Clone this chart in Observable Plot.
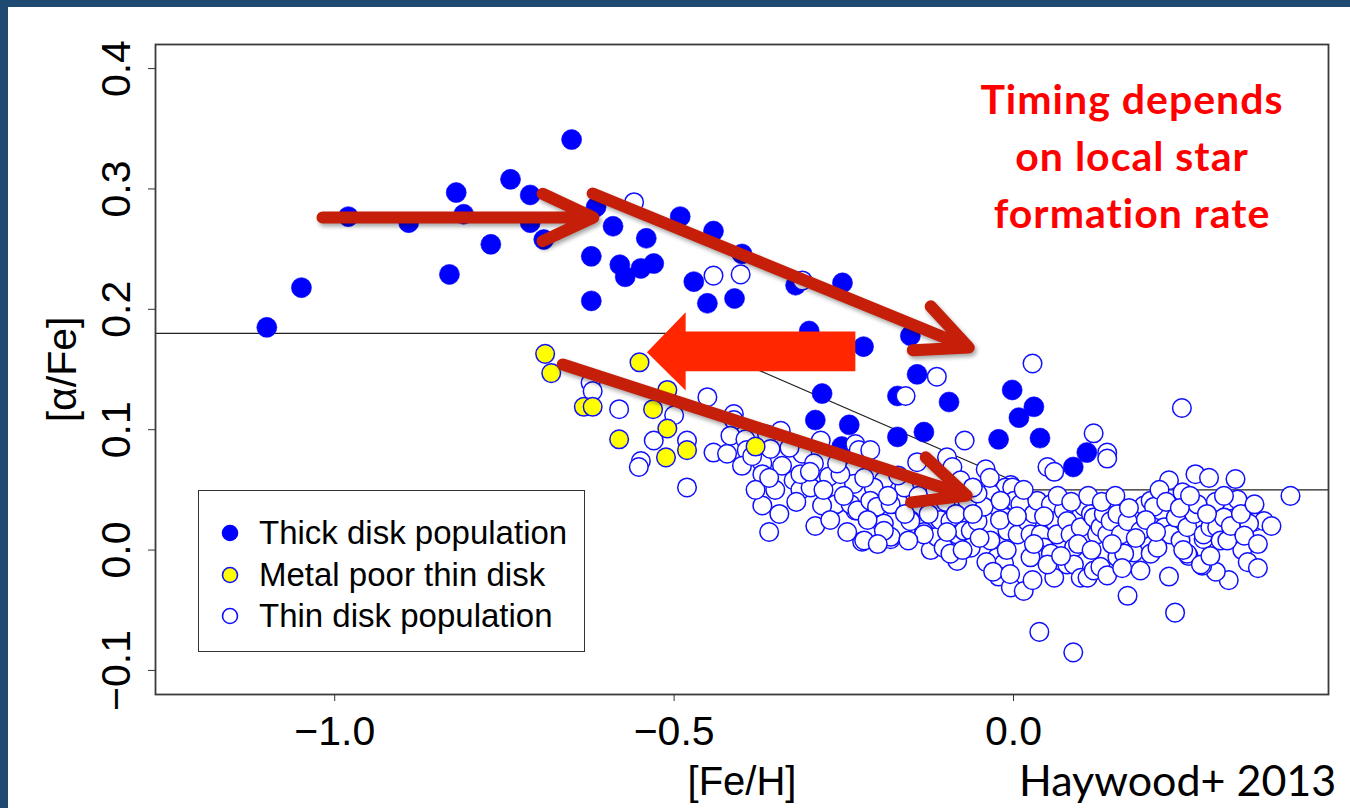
<!DOCTYPE html>
<html>
<head>
<meta charset="utf-8">
<script src="https://cdn.jsdelivr.net/npm/d3@7"></script>
<script src="https://cdn.jsdelivr.net/npm/@observablehq/plot@0.6"></script>
<style>
html,body{margin:0;padding:0;background:#fff;}
#wrap{position:relative;width:1350px;height:808px;overflow:hidden;background:#fff;}
.bar-top{position:absolute;left:0;top:0;width:1350px;height:7px;background:#1e4a72;z-index:5;}
.bar-left{position:absolute;left:0;top:0;width:8px;height:808px;background:#1e4a72;z-index:5;}
#chart{position:absolute;left:0;top:0;}
#note{position:absolute;left:932px;top:70px;width:400px;text-align:center;color:#ff0000;
  font-family:Lato,'Open Sans',sans-serif;font-weight:bold;font-size:41px;letter-spacing:1px;line-height:57px;}
#credit{position:absolute;left:1019px;top:758px;font-family:Lato,'Open Sans',sans-serif;font-size:43px;line-height:43px;color:#000;white-space:nowrap;}
#legend{position:absolute;left:198px;top:490px;width:385px;height:160px;border:1.5px solid #333;background:#fff;
  font-family:'Liberation Sans',Arial,sans-serif;font-size:33px;color:#000;}
#legend .row{position:absolute;left:60px;white-space:nowrap;line-height:33px;}
#legend svg{position:absolute;left:0;top:0;}
svg g[aria-label="arrow"]{filter:drop-shadow(2px 3px 2px rgba(0,0,0,0.35));}
</style>
</head>
<body>
<div id="wrap">
  <div class="bar-top"></div>
  <div class="bar-left"></div>
  <div id="chart"></div>
  <div id="legend"></div>
  <div id="note">Timing depends<br>on local star<br>formation rate</div>
  <div id="credit">Haywood+ 2013</div>
</div>
<script>
// ---------------- data ([Fe/H], [alpha/Fe]) ----------------
const thickDisk = [
  [-0.651,0.341],[-0.741,0.308],[-0.821,0.297],[-0.712,0.295],[-0.980,0.277],[-0.891,0.272],
  [-0.810,0.279],[-0.712,0.272],[-0.692,0.258],[-0.770,0.254],[-0.615,0.285],[-0.622,0.244],
  [-0.831,0.229],[-1.049,0.218],[-0.622,0.207],[-1.100,0.185],[-0.590,0.269],[-0.541,0.259],
  [-0.491,0.277],[-0.442,0.265],[-0.580,0.237],[-0.572,0.227],[-0.549,0.234],[-0.530,0.238],
  [-0.400,0.246],[-0.471,0.223],[-0.451,0.205],[-0.411,0.209],[-0.321,0.220],[-0.252,0.222],
  [-0.301,0.182],[-0.221,0.169],[-0.152,0.178],[-0.142,0.146],[-0.282,0.130],[-0.171,0.128],
  [-0.292,0.108],[-0.242,0.104],[-0.253,0.086],[-0.171,0.094],[-0.132,0.098],[-0.095,0.123],
  [-0.002,0.133],[0.030,0.119],[0.008,0.110],[-0.022,0.092],[0.039,0.093],[0.108,0.081],[0.088,0.069]
];
const metalPoorThin = [
  [-0.690,0.163],[-0.681,0.147],[-0.551,0.156],[-0.510,0.133],[-0.633,0.119],[-0.620,0.119],
  [-0.531,0.117],[-0.510,0.101],[-0.581,0.092],[-0.481,0.083],[-0.512,0.077],[-0.380,0.086]
];
const thinDisk = [
  [-0.559,0.289],[-0.442,0.228],[-0.402,0.229],[-0.311,0.224],[-0.113,0.144],[-0.159,0.128],
  [-0.623,0.139],[-0.620,0.132],[-0.581,0.117],[-0.530,0.091],[-0.549,0.074],[-0.552,0.069],
  [-0.500,0.112],[-0.481,0.091],[-0.481,0.052],[-0.451,0.127],[-0.412,0.113],[-0.412,0.108],
  [-0.442,0.081],[-0.422,0.080],[-0.417,0.095],[-0.395,0.092],[-0.393,0.083],[-0.370,0.072],
  [-0.370,0.063],[-0.363,0.096],[-0.358,0.084],[-0.343,0.099],[-0.341,0.070],[-0.351,0.050],
  [-0.370,0.037],[-0.360,0.015],[-0.324,0.058],[-0.314,0.050],[-0.311,0.080],[-0.294,0.072],
  [-0.284,0.091],[-0.272,0.061],[-0.262,0.038],[-0.292,0.020],[-0.282,0.037],[-0.233,0.088],
  [-0.228,0.083],[-0.211,0.083],[-0.142,0.073],[-0.098,0.077],[-0.235,0.067],[-0.235,0.055],
  [-0.233,0.033],[-0.223,0.007],[-0.203,0.037],[-0.194,0.022],[-0.181,0.009],[-0.171,0.038],
  [-0.152,0.025],[-0.132,0.015],[-0.122,0.000],[-0.113,0.011],[-0.108,0.025],[-0.191,0.058],
  [-0.206,0.052],[-0.255,0.063],[-0.299,0.052],[-0.314,0.063],
  [0.028,0.155],[0.248,0.118],[0.118,0.097],[0.138,0.081],[0.138,0.076],[-0.072,0.091],
  [0.050,0.069],[0.060,0.065],[-0.090,0.069],[-0.041,0.067],[-0.004,0.054],[-0.012,0.052],
  [0.229,0.058],[0.268,0.063],[0.288,0.060],[0.327,0.059],[0.408,0.045],[0.249,0.048],
  [0.317,0.041],[0.330,0.042],[0.357,0.024],[0.369,0.024],[0.347,0.022],[0.337,0.000],
  [0.317,-0.025],[0.298,-0.018],[0.278,-0.013],[0.258,-0.005],[0.229,-0.022],[0.238,-0.052],
  [0.168,-0.038],[0.187,-0.017],[0.177,-0.002],[0.088,-0.085],[0.038,-0.068],[0.217,0.033],
  [0.202,0.037],[0.192,0.037],[0.268,0.038],[0.298,0.040],[0.295,0.019],[0.300,0.008],[0.280,0.009],
  [-0.034,0.047],[-0.024,0.036],[-0.012,0.027],[-0.002,0.052],[-0.009,0.016],[0.001,0.041],
  [0.006,0.013],[0.010,0.038],[0.020,0.024],[0.025,0.013],[0.030,0.030],[0.035,0.041],
  [0.040,0.013],[0.045,0.002],[0.055,0.038],[0.060,0.024],[0.064,0.013],[0.074,0.033],
  [0.079,0.024],[0.084,0.013],[0.089,0.002],[0.099,0.019],[0.104,0.036],[0.114,0.030],
  [0.118,0.027],[0.123,0.013],[0.128,0.019],[0.133,0.030],[0.138,0.013],[0.143,0.024],
  [0.153,0.030],[0.158,0.013],[0.168,0.024],[0.187,0.016],[0.202,0.041],[0.207,0.036],
  [0.222,0.019],[0.231,0.013],[0.239,0.027],[0.246,0.008],[0.256,0.019],[0.266,0.030],
  [0.271,0.038],[0.280,0.013],[0.290,0.019],[0.300,0.019],[0.305,0.008],[0.310,0.027],[0.315,0.008],
  [-0.024,-0.006],[-0.014,-0.011],[-0.022,-0.022],[-0.004,-0.031],[0.015,-0.034],[0.028,-0.025],
  [0.037,-0.003],[0.025,-0.006],[0.055,-0.003],[0.060,-0.023],[0.079,-0.012],[0.089,-0.012],
  [0.099,-0.023],[0.109,-0.023],[0.118,-0.017],[0.128,-0.014],[0.138,-0.021],[0.153,-0.006],
  [0.163,-0.003],[0.202,-0.003],[0.212,0.002],[0.256,-0.003],[0.276,-0.012],
  [-0.240,0.038],[-0.230,0.033],[-0.211,0.041],[-0.201,0.036],[-0.191,0.022],[-0.181,0.011],
  [-0.171,0.041],[-0.161,0.052],[-0.152,0.024],[-0.132,0.013],[-0.103,0.002],[-0.093,0.024],
  [-0.083,0.013],[-0.073,0.016],[-0.063,0.016],[-0.053,0.024],[-0.044,0.036],[-0.220,0.008],
  [-0.191,0.016],[-0.181,0.038],[-0.093,0.041],[-0.078,0.058],[-0.068,0.041],[-0.053,0.047],
  [-0.019,0.041],[-0.083,-0.009],[-0.093,-0.003],[-0.063,0.002],[-0.034,0.008],
  [-0.400,0.070],[-0.380,0.050],[-0.360,0.060],[-0.330,0.085],[-0.320,0.040],[-0.300,0.065],
  [-0.345,0.030],[-0.385,0.078],[-0.280,0.050],[-0.270,0.025],[-0.250,0.045],[-0.245,0.015],
  [-0.220,0.060],[-0.215,0.025],[-0.200,0.005],[-0.185,0.045],[-0.170,0.062],[-0.160,0.030],
  [-0.155,0.008],[-0.260,0.072],[-0.140,0.045],[-0.125,0.030],[-0.115,0.050],[-0.100,0.040],
  [-0.098,0.015],[-0.085,0.030],[-0.075,0.000],[-0.060,0.030],[-0.050,0.010],[-0.040,-0.010],
  [-0.035,0.060],[-0.020,0.025],[-0.030,-0.018],[-0.010,0.000],[-0.005,-0.020],[0.005,0.028],
  [-0.060,0.052],[0.015,0.050],[0.030,0.005],[0.045,0.028],[0.050,-0.012],[0.065,0.045],
  [0.070,-0.005],[0.085,0.040],[0.095,0.005],[0.110,0.045],[0.115,0.000],[0.130,0.040],
  [0.145,0.005],[0.150,0.045],[0.160,-0.015],[0.170,0.035],[0.180,0.010],[0.195,0.025],
  [0.210,0.015],[0.215,0.050],[0.225,0.040],[0.245,0.035],[0.250,0.000],[0.260,0.045],
  [0.285,0.030],[0.290,-0.005],[0.310,0.045],[0.320,0.020],[0.335,0.030],[0.340,0.012],
  [0.355,0.038],[0.360,0.005],[0.380,0.020],[0.345,-0.010],[0.360,-0.015]
];
// separation line between thick and thin disk
const separation = [[-1.264,0.18],[-0.5,0.18],[0.03,0.05],[0.464,0.05]];
// annotation arrows (data units): [x1, y1, x2, y2]
const darkArrows = [
  [-1.018,0.2763,-0.619,0.2763],
  [-0.620,0.2962,-0.066,0.1683],
  [-0.664,0.1542,-0.069,0.0453]
];
const bigArrow = [[-0.233,0.1816],[-0.483,0.1816],[-0.483,0.1976],[-0.540,0.1644],[-0.483,0.1326],[-0.483,0.1486],[-0.233,0.1486]];
const xTicks = [-1.0,-0.5,0.0];
const yTicks = [-0.1,0.0,0.1,0.2,0.3,0.4];
const legendLabels = ["Thick disk population","Metal poor thin disk","Thin disk population"];

// ---------------- chart ----------------
const fmt = d3.format(".1f");
const P = (arr) => arr.map(([x,y]) => ({x,y}));
const FONT = "'Liberation Sans', Arial, Helvetica, sans-serif";

const chart = Plot.plot({
  width:1350, height:808,
  marginLeft:155, marginRight:22, marginTop:44, marginBottom:114,
  x:{domain:[-1.264,0.464]},
  y:{domain:[-0.12,0.42]},
  style:{background:"transparent", fontFamily:FONT, color:"#000", overflow:"visible"},
  marks:[
    Plot.line(P(separation), {x:"x", y:"y", stroke:"#222", strokeWidth:1.2}),
    Plot.dot(P(thickDisk), {x:"x", y:"y", r:10, fill:"#0000ff", stroke:"#0000ff", strokeWidth:0.6}),
    Plot.dot(P(thinDisk), {x:"x", y:"y", r:9.3, fill:"#ffffff", stroke:"#1010ff", strokeWidth:1.5}),
    Plot.dot(P(metalPoorThin), {x:"x", y:"y", r:9.3, fill:"#ffff00", stroke:"#1010ff", strokeWidth:1.5}),
    Plot.line(P(bigArrow), {x:"x", y:"y", fill:"#ff2600", stroke:"none", curve:"linear-closed"}),
    Plot.arrow(darkArrows, {x1:d=>d[0], y1:d=>d[1], x2:d=>d[2], y2:d=>d[3],
      stroke:"#c51f0a", strokeWidth:12, headLength:7, headAngle:50}),
    Plot.frame({stroke:"#3a3a3a", strokeWidth:1.8}),
    Plot.axisX({ticks:xTicks, tickSize:7, tickPadding:14, tickFormat:fmt, fontSize:41, label:null, stroke:"#333"}),
    Plot.axisY({ticks:yTicks, tickSize:7, tickFormat:()=>"", label:null, stroke:"#333"}),
    Plot.text(yTicks, {y:d=>d, text:d=>fmt(d), frameAnchor:"left", dx:-39, rotate:-90,
      textAnchor:"middle", lineAnchor:"middle", fontSize:41, fill:"#000"}),
    Plot.text(["[α/Fe]"], {text:d=>d, frameAnchor:"left", dx:-93, rotate:-90,
      textAnchor:"middle", lineAnchor:"middle", fontSize:41, fill:"#000"}),
    Plot.text(["[Fe/H]"], {text:d=>d, frameAnchor:"bottom", dy:88,
      textAnchor:"middle", lineAnchor:"middle", fontSize:40, fill:"#000"})
  ]
});
document.getElementById("chart").appendChild(chart);

// ---------------- legend ----------------
const legend = document.getElementById("legend");
const styles = [
  {fill:"#0000ff", stroke:"#0000ff"},
  {fill:"#ffff00", stroke:"#1010ff"},
  {fill:"#ffffff", stroke:"#1010ff"}
];
const baselines = [53, 95, 136];
let svgm = `<svg width="385" height="160">`;
legendLabels.forEach((lab,i) => {
  svgm += `<circle cx="31" cy="${baselines[i]-11}" r="7.5" fill="${styles[i].fill}" stroke="${styles[i].stroke}" stroke-width="1.6"/>`;
});
svgm += `</svg>`;
legend.innerHTML = svgm + legendLabels.map((lab,i) =>
  `<div class="row" style="top:${baselines[i]-28}px">${lab}</div>`).join("");
</script>
</body>
</html>
